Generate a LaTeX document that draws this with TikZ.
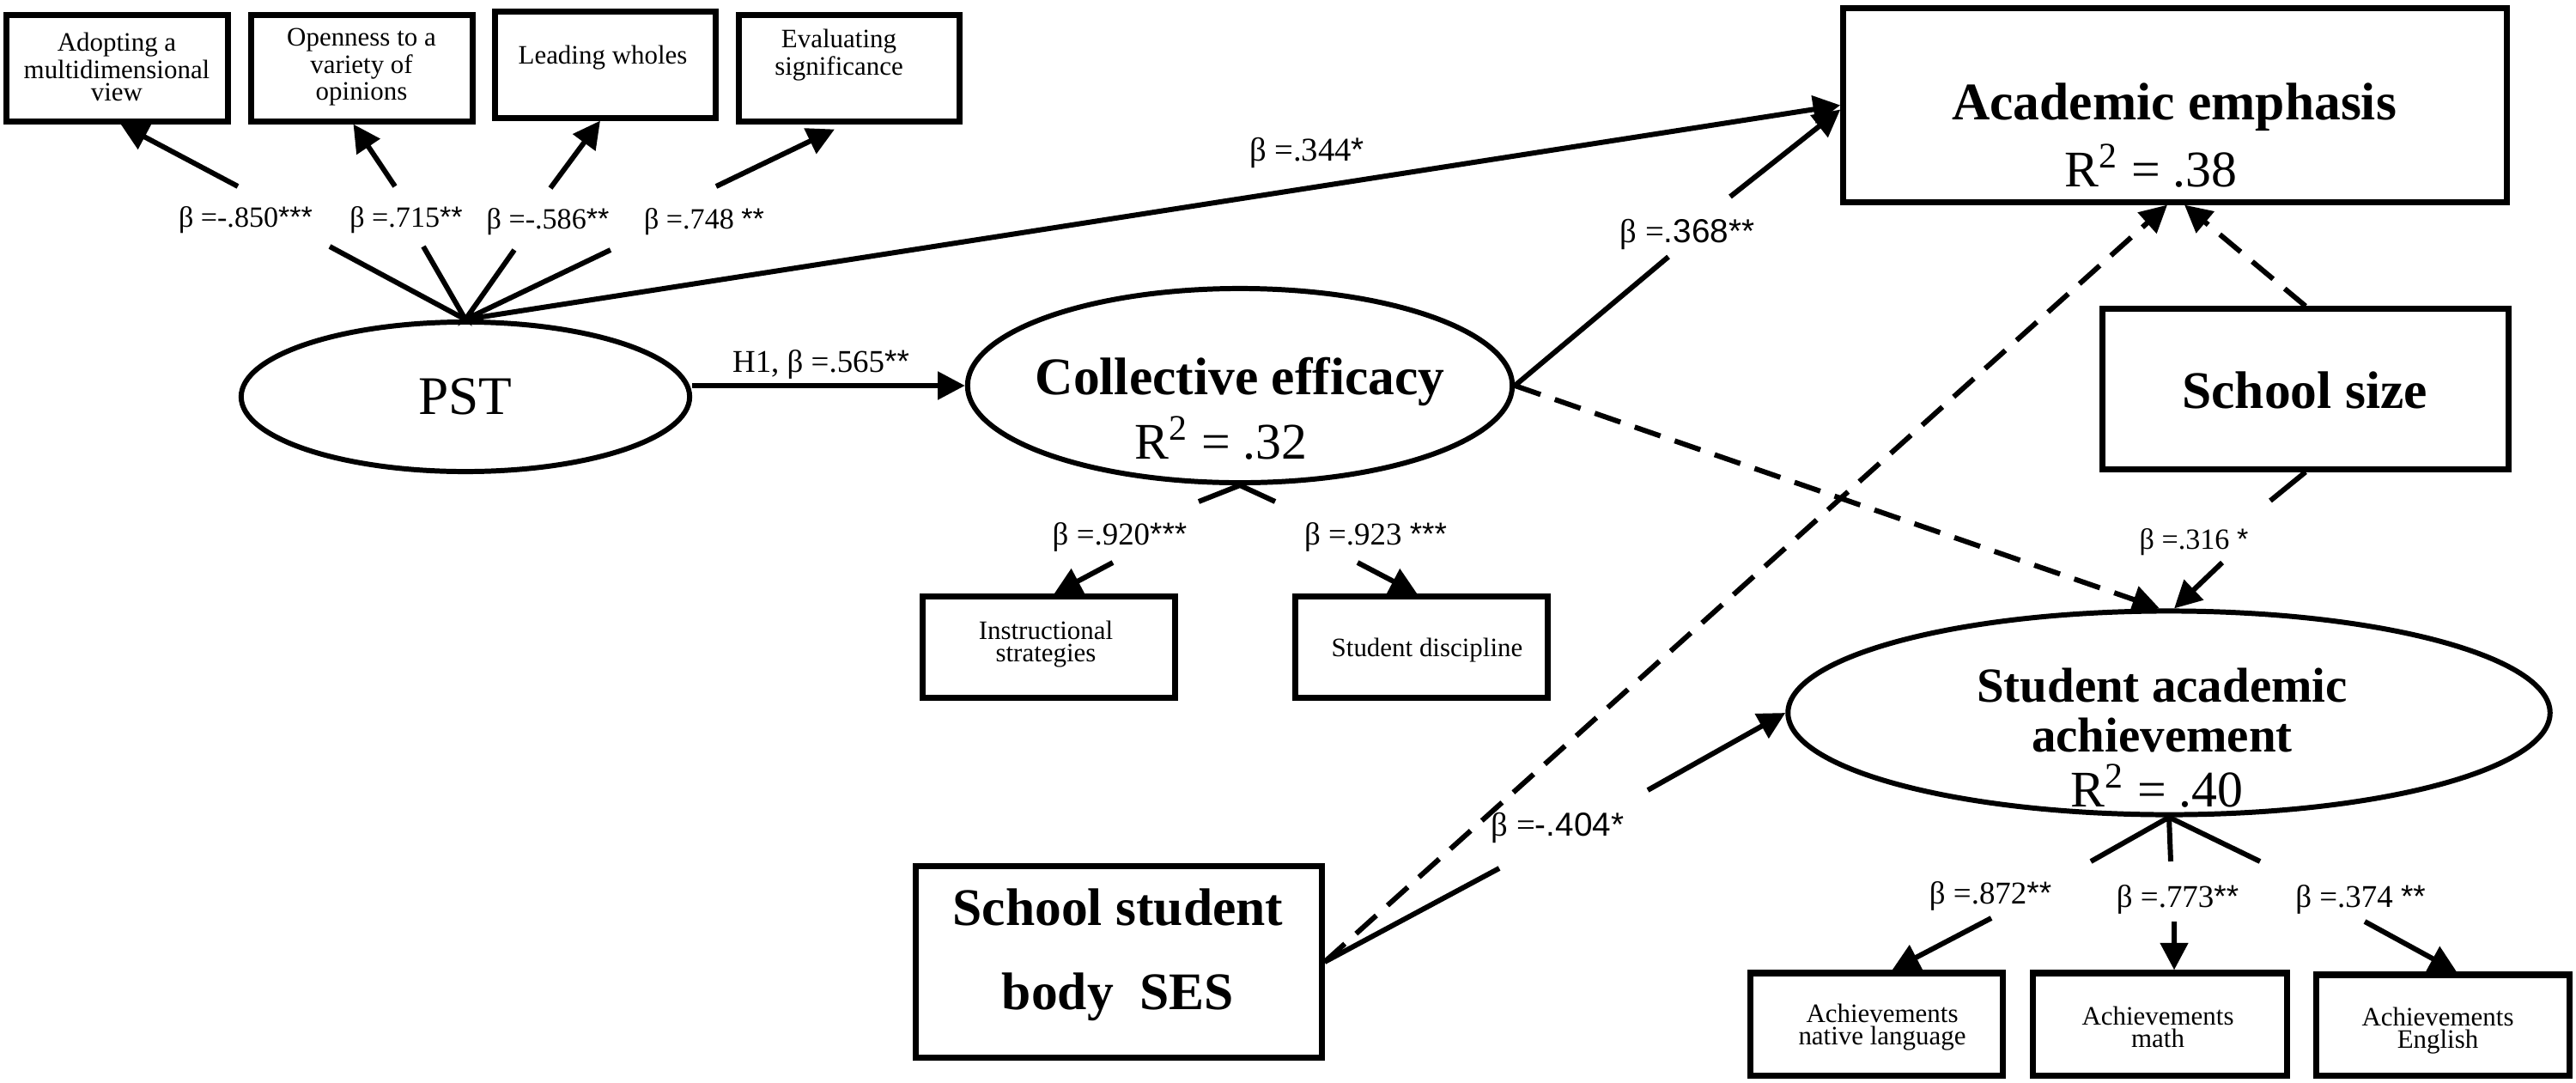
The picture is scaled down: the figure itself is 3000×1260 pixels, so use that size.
\documentclass[tikz,border=0pt]{standalone}
\usepackage{fontspec}
\setmainfont{Liberation Serif}
\newfontfamily\sansf{Liberation Sans}
\usetikzlibrary{arrows.meta,shapes.geometric,calc}
\newcommand\stars[1]{{\sansf #1}}
\begin{document}
\begin{tikzpicture}[x=0.01cm,y=-0.01cm,
  box/.style={draw, line width=2pt, inner sep=0pt},
  lat/.style={draw, ellipse, line width=1.7pt, inner sep=0pt},
  conn/.style={line width=1.7pt},
  arr/.style={conn, -{Triangle[length=9pt,width=9pt]}},
  darr/.style={arr, dash pattern=on 9pt off 5pt},
  ind/.style={font=\fontsize{8.8}{7.5}\selectfont, align=center, inner sep=0pt},
  coef/.style={font=\fontsize{9.7}{11}\selectfont, inner sep=0pt},
  coefb/.style={font=\fontsize{10.5}{12}\selectfont, inner sep=0pt},
  coefc/.style={font=\fontsize{11}{13}\selectfont, inner sep=0pt},
  big/.style={font=\fontsize{17.5}{20}\selectfont\bfseries, inner sep=0pt, align=center},
  rsq/.style={font=\fontsize{17}{20}\selectfont, inner sep=0pt}
]
\useasboundingbox (0,0) rectangle (3000,1260);

% top indicator boxes
\node[box, minimum width=2.57cm, minimum height=1.23cm] (b1) at (136.5,79.5) {};
\node[box, minimum width=2.57cm, minimum height=1.23cm] (b2) at (421.5,79.5) {};
\node[box, minimum width=2.56cm, minimum height=1.23cm] (b3) at (705,75.5) {};
\node[box, minimum width=2.56cm, minimum height=1.23cm] (b4) at (989,79.5) {};
\node[ind] (t1) at (136,78) {Adopting a\\multidimensional\\view};
\node[ind] (t2) at (421,78) {Openness to a\\variety of\\opinions};
\node[ind] (t3) at (702,67) {Leading wholes};
\node[ind] (t4) at (977,64) {Evaluating\\significance};

% PST
\node[lat, minimum width=5.22cm, minimum height=1.74cm] (pst) at (542,462) {};
\node[font=\fontsize{18}{20}\selectfont, inner sep=0pt] (pstt) at (542,462) {PST};

% fan from PST to top boxes
\coordinate (f1) at (384,287); \coordinate (g1) at (277,217);
\coordinate (f2) at (493,287); \coordinate (g2) at (460,217);
\coordinate (f3) at (599,291); \coordinate (g3) at (641,219);
\coordinate (f4) at (711,291); \coordinate (g4) at (834,217);
\draw[conn] (f1) -- (pst.north) -- (f2);
\draw[conn] (f3) -- (pst.north) -- (f4);
\draw[arr] (g1) -- ([xshift=0.04cm]b1.south);
\draw[arr] (g2) -- ([xshift=-0.1cm]b2.south);
\draw[arr] (g3) -- ([xshift=-0.06cm]b3.south);
\draw[arr] (g4) -- ([xshift=-0.17cm,yshift=-0.06cm]b4.south);
\node[coef] (c1) at (286,256) {β =-.850\stars{***}};
\node[coef] (c2) at (473,256) {β =.715\stars{**}};
\node[coef] (c3) at (638,258) {β =-.586\stars{**}};
\node[coef] (c4) at (820,258) {β =.748 \stars{**}};

% Collective efficacy
\node[lat, minimum width=6.34cm, minimum height=2.26cm] (ce) at (1444,449) {};
\node[big] (cet) at (1444,444) {Collective efficacy};
\node[rsq] (cer) at (1422,510) {R\textsuperscript{2} = .32};

\draw[arr] (pst.east |- ce.west) -- (ce.west);
\node[coefb] (h1) at (956,424) {H1, β =.565\stars{**}};

% CE indicators
\coordinate (cea) at (1396,584); \coordinate (ceb) at (1485,584);
\draw[conn] (cea) -- (ce.south) -- (ceb);
\node[box, minimum width=2.93cm, minimum height=1.17cm] (is) at (1221.5,753.5) {};
\node[box, minimum width=2.93cm, minimum height=1.17cm] (sd) at (1655.5,753.5) {};
\node[ind] (ist) at (1218,750) {Instructional\\strategies};
\node[ind] (sdt) at (1662,757) {Student discipline};
\node[coefb] (c5) at (1304,625) {β =.920\stars{***}};
\node[coefb] (c6) at (1602,625) {β =.923 \stars{***}};
\coordinate (g5) at (1296,655); \coordinate (g6) at (1581,655);
\draw[arr] (g5) -- ([xshift=0.06cm]is.north);
\draw[arr] (g6) -- ([xshift=-0.05cm]sd.north);

% Academic emphasis
\node[box, minimum width=7.72cm, minimum height=2.25cm] (ae) at (2533,122.5) {};
\node[big] (aet) at (2532,125) {Academic emphasis};
\node[rsq] (aer) at (2505,193) {R\textsuperscript{2} = .38};

\draw[arr] (pst.north) -- (ae.west);
\node[coefc] (c7) at (1522,178) {β =.344\stars{*}};

\coordinate (h2a) at (1943,299); \coordinate (h2b) at (2015,229);
\draw[conn] (ce.east) -- (h2a);
\draw[arr] (h2b) -- ([yshift=-0.05cm]ae.west);
\node[coefc] (c8) at (1965,273) {β =\stars{.368**}};

% School size
\node[box, minimum width=4.72cm, minimum height=1.86cm] (ss) at (2685,453) {};
\node[big] (sst) at (2684,454) {School size};

% Student academic achievement
\node[lat, minimum width=8.87cm, minimum height=2.37cm] (saa) at (2526,830) {};
\node[big, font=\fontsize{16.2}{16.5}\selectfont\bfseries] (saat) at (2518,827) {Student academic\\achievement};
\node[rsq] (saar) at (2512,915) {R\textsuperscript{2} = .40};

\draw[darr] (ss.north) -- ([xshift=0.11cm]ae.south);
\coordinate (h3a) at (2644,583); \coordinate (h3b) at (2588,655);
\draw[conn] (ss.south) -- (h3a);
\draw[arr] (h3b) -- ([xshift=0.06cm]saa.north);
\node[coef] (c9) at (2555,631) {β =.316 \stars{*}};

\draw[darr] (ce.east) -- ([xshift=-0.11cm]saa.north);

% School student body SES
\node[box, minimum width=4.72cm, minimum height=2.22cm] (ses) at (1303,1120) {};
\node[big, font=\fontsize{17.5}{28}\selectfont\bfseries] (sest) at (1302,1112) {School student\\body\ \ SES};
\coordinate (h4a) at (1746,1011); \coordinate (h4b) at (1919,920);
\draw[conn] (ses.east) -- (h4a);
\draw[arr] (h4b) -- (saa.west);
\node[coefc] (c10) at (1814,964) {β =\stars{-.404*}};
\draw[darr] (ses.east) -- ([xshift=-0.09cm]ae.south);

% achievement indicators
\coordinate (sa1) at (2435,1003); \coordinate (sa2) at (2528,1003); \coordinate (sa3) at (2632,1003);
\draw[conn] (sa1) -- (saa.south) -- (sa3);
\draw[conn] (saa.south) -- (sa2);
\node[box, minimum width=2.93cm, minimum height=1.19cm] (an) at (2185.5,1192.5) {};
\node[box, minimum width=2.95cm, minimum height=1.19cm] (am) at (2515.5,1192.5) {};
\node[box, minimum width=2.94cm, minimum height=1.17cm] (aen) at (2845,1193.5) {};
\node[ind] (ant) at (2192,1196) {Achievements\\native language};
\node[ind] (amt) at (2513,1196) {Achievements\\math};
\node[ind] (aent) at (2839,1200) {Achievements\\English};
\node[coefb] (c11) at (2318,1043) {β =.872\stars{**}};
\node[coefb] (c12) at (2536,1047) {β =.773\stars{**}};
\node[coefb] (c13) at (2749,1047) {β =.374 \stars{**}};
\coordinate (g11) at (2319,1069); \coordinate (g12) at (2532,1073); \coordinate (g13) at (2754,1073);
\draw[arr] (g11) -- ([xshift=0.18cm]an.north);
\draw[arr] (g12) -- ([xshift=0.165cm]am.north);
\draw[arr] (g13) -- ([xshift=0.16cm]aen.north);
\end{tikzpicture}
\end{document}
